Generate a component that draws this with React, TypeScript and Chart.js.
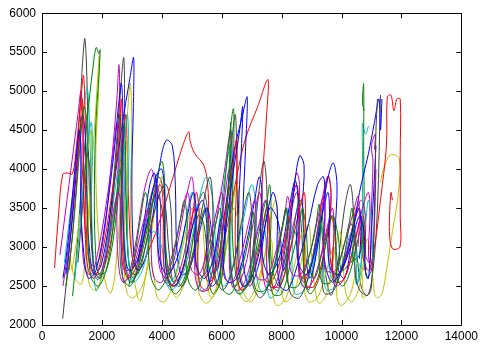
import React, { useEffect, useRef } from "react";
import { Chart, registerables } from "chart.js";

Chart.register(...registerables);

// x tick labels / y tick labels
const xTicks = [0, 2000, 4000, 6000, 8000, 10000, 12000, 14000];
const yTicks = [2000, 2500, 3000, 3500, 4000, 4500, 5000, 5500, 6000];

const black1 = [[690,2080],[850,2700],[1050,3600],[1250,4700],[1420,5670],[1480,5400],[1530,4600],[1600,3500],[1700,2800],[1850,2580],[2050,2750],[2350,3700],[2600,4900],[2730,5430],[2760,4600],[2800,3500],[2900,2800],[3050,2600],[3250,2800],[3600,3600],[3900,3900],[4100,3600],[4250,2900],[4400,2550],[4700,2700],[5100,3400],[5400,3700],[5600,3200],[5750,2600],[5900,2500],[6100,3200],[6300,4200],[6450,4700],[6500,4300],[6550,3200],[6700,2500],[6900,2550],[7150,3400],[7400,4100],[7500,3800],[7550,3000],[7700,2500],[7900,2450],[8200,3200],[8500,3700],[8650,3300],[8750,2700],[8900,2450],[9100,2800],[9300,3300],[9450,2700],[9650,2380],[9850,2700],[10100,3500],[10300,3800],[10450,3200],[10650,2500],[10870,2380],[11050,2700],[11200,3500],[11300,4950]];
const blue1 = [[800,2650],[1000,3300],[1200,4200],[1350,4700],[1450,4400],[1500,3600],[1600,2900],[1750,2650],[2000,2800],[2300,3500],[2650,4500],[2950,5200],[3060,5430],[3050,4800],[3000,3900],[3050,3000],[3200,2700],[3450,2850],[3700,3400],[3950,4100],[4150,4370],[4350,4300],[4450,3800],[4500,3000],[4650,2650],[4900,2700],[5200,3100],[5500,3500],[5700,3100],[5850,2700],[6050,3300],[6400,4200],[6700,4700],[6850,4925],[6800,4300],[6700,3300],[6750,2700],[6950,2500],[7250,2800],[7600,3500],[7900,3300],[8050,2700],[8200,2900],[8400,3700],[8600,4170],[8750,4050],[8700,3500],[8800,2900],[8950,2600],[9200,3000],[9500,3800],[9720,4080],[9850,3800],[9800,3200],[9900,2700],[10100,2600],[10350,3100],[10600,3700],[10900,4200],[11100,4600],[11250,4900],[11300,4500],[11350,4900]];
const green1 = [[1020,2370],[1150,2900],[1300,3700],[1500,4600],[1700,5300],[1810,5560],[1900,5480],[1940,5530],[1900,5200],[1800,4600],[1750,3800],[1780,3000],[1900,2650],[2150,2700],[2450,3300],[2650,4200],[2750,4600],[2800,4000],[2850,3100],[2950,2700],[3200,2650],[3500,3100],[3800,3700],[4000,3500],[4150,2900],[4300,2600],[4600,2500],[4900,2800],[5200,3400],[5400,3300],[5550,2800],[5700,2600],[5950,3200],[6200,4200],[6390,4775],[6400,4200],[6350,3300],[6450,2700],[6650,2450],[6950,2600],[7300,3300],[7500,3600],[7600,3200],[7700,2700],[7950,2500],[8300,3000],[8600,3600],[8800,3300],[8900,2800],[9100,2600],[9400,3000],[9700,3400],[9900,3100],[10000,2700],[10300,2800],[10600,2900],[10740,3300],[10740,4300],[10740,5090],[10700,4850],[10760,4750]];
const red1 = [[418,2730],[550,3400],[690,3930],[850,3950],[1020,3940],[1150,4300],[1280,4800],[1380,5200],[1420,5000],[1450,4500],[1450,3800],[1500,3100],[1650,2700],[1900,2650],[2200,2900],[2500,3600],[2700,4300],[2800,4700],[2850,4200],[2900,3500],[3000,2900],[3200,2700],[3500,2900],[3900,3300],[4300,3800],[4700,4300],[4900,4480],[4950,4350],[5100,4200],[5400,4050],[5530,3800],[5560,3400],[5500,3000],[5400,2700],[5600,2550],[5900,2800],[6200,3300],[6500,3900],[6800,4400],[7200,4800],[7540,5150],[7500,4700],[7350,3800],[7300,3000],[7400,2600],[7650,2550],[8000,2900],[8300,3500],[8500,3800],[8600,3400],[8550,2900],[8700,2600],[9000,2800],[9300,3400],[9550,3900],[9650,3700],[9600,3100],[9700,2700],[9950,2650],[10250,3000],[10500,3500],[10650,3400],[10700,2900],[10900,2700],[11100,3000],[11300,3600],[11500,4300],[11530,4925],[11650,4950],[11750,4750],[11850,4900],[11960,4900],[11960,4200],[11960,3400],[11950,3000],[11700,2980],[11600,3200],[11650,3700],[11700,3600]];
const cyan1 = [[750,2800],[900,3300],[1100,3900],[1300,4500],[1500,5050],[1550,4900],[1600,4400],[1650,3600],[1700,2900],[1800,2440],[1950,2550],[2200,3100],[2500,3900],[2700,4400],[2750,3900],[2750,3200],[2850,2650],[2950,2540],[3150,2700],[3400,3200],[3700,3700],[3850,3400],[3950,2900],[4100,2550],[4400,2600],[4700,3100],[5000,3700],[5150,3400],[5200,2800],[5300,2450],[5550,2500],[5850,3100],[6100,3900],[6300,4300],[6350,3700],[6300,3000],[6400,2500],[6650,2400],[6950,2700],[7250,3300],[7450,3200],[7500,2700],[7600,2350],[7900,2450],[8200,3000],[8450,3200],[8550,2800],[8700,2500],[9000,2700],[9300,3200],[9500,3100],[9600,2700],[9800,2550],[10100,2800],[10350,3000],[10500,2525],[10650,2700],[10700,3500],[10700,4200],[10700,4585],[10800,4450],[10900,4550]];
const magenta1 = [[600,2900],[800,3500],[1000,4100],[1200,4700],[1300,5000],[1350,4700],[1380,4000],[1450,3200],[1600,2800],[1800,2750],[2050,3100],[2300,4000],[2500,4900],[2570,5340],[2600,4800],[2600,3800],[2650,3000],[2730,2540],[2900,2650],[3150,3100],[3400,3700],[3650,4000],[3800,3700],[3850,3100],[3950,2700],[4200,2600],[4500,3000],[4800,3600],[5000,3900],[5100,3500],[5100,2900],[5250,2600],[5500,2700],[5800,3300],[6100,4000],[6300,4500],[6350,4100],[6250,3300],[6300,2700],[6450,2500],[6750,2700],[7050,3300],[7250,3700],[7350,3500],[7350,2900],[7450,2500],[7700,2450],[8000,2800],[8300,3500],[8500,3950],[8600,3800],[8550,3200],[8600,2700],[8750,2550],[9050,2900],[9350,3600],[9550,3915],[9650,3700],[9600,3200],[9650,2800],[9800,2600],[10100,2850],[10400,3300],[10650,3600],[10800,3400],[10800,2900],[10950,2800],[11000,3500],[11050,4100],[11000,4300],[11130,4450],[11100,4250]];
const yellow1 = [[900,2900],[1100,2600],[1318,2527],[1450,2900],[1600,3700],[1750,4500],[1850,5100],[1911,5457],[1880,4900],[1800,4300],[1820,3600],[1950,2900],[2150,2500],[2300,2410],[2450,2700],[2650,3700],[2850,4700],[2950,5100],[3000,4500],[2950,3500],[3050,2700],[3200,2350],[3290,2310],[3450,2600],[3700,3300],[4000,3900],[4100,3600],[4150,2900],[4300,2500],[4500,2350],[4800,2600],[5100,3200],[5300,3500],[5400,3100],[5500,2600],[5650,2350],[5900,2500],[6200,3100],[6500,3800],[6600,3500],[6600,2800],[6750,2400],[7000,2300],[7300,2600],[7600,3300],[7800,3600],[7900,3200],[7950,2600],[8100,2300],[8400,2400],[8700,2900],[8900,3300],[9000,2900],[9100,2500],[9250,2280],[9500,2400],[9750,2900],[9950,3200],[10050,2800],[10150,2400],[10350,2300],[10600,2500],[10850,3100],[11000,2800],[11100,2400],[11200,2350],[11350,2400],[11500,2700],[11700,3200],[11900,3700],[11920,4140],[11630,4180],[11400,4000],[11300,3830]];

const black2 = [[1200,2800],[1350,3500],[1500,4200],[1600,4000],[1650,3300],[1750,2700],[1950,2600],[2200,3000],[2450,4000],[2600,4700],[2650,4200],[2700,3300],[2800,2700],[3000,2550],[3300,2800],[3650,3300],[3950,3700],[4150,3800],[4300,3500],[4350,3000],[4450,2650],[4700,2500],[5050,2900],[5350,3500],[5600,3900],[5700,3600],[5700,3000],[5800,2600],[6050,2450],[6350,2700],[6650,3300],[6900,3700],[7000,3400],[6950,2900],[7050,2500],[7300,2350],[7650,2600],[7950,3100],[8150,3500],[8250,3200],[8200,2700],[8300,2400],[8600,2350],[8950,2700],[9200,3200],[9350,3400],[9400,3000],[9350,2600],[9450,2400],[9750,2450],[10050,2800],[10300,3300],[10450,3100],[10450,2700],[10600,2450],[10870,2380],[11000,2500],[11100,3500],[11150,4500],[11200,4900]];
const blue2 = [[700,2600],[850,3000],[1000,3600],[1150,4200],[1250,4500],[1300,4200],[1300,3500],[1400,2900],[1550,2600],[1800,2700],[2100,3300],[2400,4200],[2550,4800],[2650,5100],[2700,4700],[2700,3800],[2750,3000],[2900,2700],[3150,2800],[3500,3300],[3800,3900],[4000,4000],[4100,3600],[4100,3000],[4200,2600],[4450,2500],[4750,2800],[5050,3300],[5350,3600],[5500,3300],[5500,2800],[5650,2500],[5900,2600],[6150,3300],[6400,4000],[6600,4500],[6700,4800],[6650,4200],[6550,3400],[6550,2800],[6700,2500],[7000,2600],[7350,3100],[7700,3700],[7850,3500],[7850,2900],[7950,2500],[8200,2450],[8550,2800],[8900,3300],[9200,3800],[9400,3900],[9450,3500],[9400,3000],[9500,2700],[9700,2550],[10000,2700],[10300,3000],[10600,3400],[10750,3200],[10800,2700],[10900,2600],[11000,3200],[11100,3900],[11150,4300]];
const green2 = [[800,2500],[950,2900],[1100,3500],[1250,4200],[1400,4800],[1500,4600],[1500,3800],[1550,3000],[1650,2600],[1900,2500],[2200,2800],[2450,3500],[2600,4000],[2650,3700],[2600,3000],[2700,2600],[2950,2500],[3250,2800],[3550,3300],[3800,3800],[4000,4100],[4100,3800],[4100,3100],[4200,2600],[4450,2400],[4800,2600],[5150,3100],[5450,3500],[5550,3200],[5550,2700],[5700,2400],[6000,2600],[6150,3300],[6250,4000],[6300,4600],[6300,4000],[6250,3200],[6350,2600],[6550,2400],[6850,2500],[7150,2900],[7450,3400],[7600,3800],[7650,3400],[7600,2800],[7700,2400],[8000,2400],[8300,2800],[8550,3200],[8700,3500],[8750,3100],[8750,2600],[8950,2400],[9250,2600],[9500,3100],[9700,3400],[9800,3100],[9850,2600],[10050,2500],[10300,2700],[10550,3100],[10700,3300],[10750,2900],[10850,2600],[11000,2700]];
const red2 = [[900,2700],[1050,3300],[1200,4100],[1300,4700],[1350,4900],[1380,4500],[1380,3800],[1450,3100],[1550,2700],[1750,2600],[2000,2900],[2300,3600],[2550,4300],[2650,4900],[2680,4400],[2650,3600],[2700,2900],[2850,2600],[3100,2700],[3400,3100],[3700,3600],[3950,3800],[4050,3500],[4050,2900],[4150,2600],[4400,2500],[4700,2700],[4950,3200],[5150,3700],[5250,3400],[5200,2800],[5300,2500],[5550,2450],[5850,2800],[6150,3500],[6400,4100],[6500,4400],[6500,3900],[6450,3200],[6500,2700],[6650,2450],[6950,2550],[7250,3000],[7500,3500],[7600,3300],[7600,2800],[7700,2500],[7950,2500],[8250,2900],[8550,3400],[8750,3700],[8800,3400],[8750,2800],[8850,2500],[9100,2500],[9400,2900],[9650,3400],[9750,3200],[9700,2800],[9800,2550],[10100,2600],[10400,3000],[10700,3400],[10800,3100],[10750,2700]];
const cyan2 = [[1100,2600],[1250,3200],[1400,3900],[1550,4400],[1650,4600],[1680,4200],[1650,3500],[1700,2900],[1800,2600],[2000,2700],[2300,3200],[2550,3800],[2750,4300],[2850,4700],[2900,4200],[2850,3400],[2900,2800],[3050,2550],[3350,2700],[3700,3200],[4000,3000],[4100,2650],[4300,2450],[4650,2600],[5000,3100],[5300,3700],[5500,3900],[5700,3600],[5800,3000],[5900,2600],[6100,2500],[6400,2800],[6750,3400],[7000,3800],[7150,3500],[7100,3000],[7200,2550],[7400,2400],[7700,2700],[8000,3200],[8200,3500],[8350,3200],[8350,2700],[8450,2400],[8750,2450],[9050,2900],[9300,3300],[9400,3100],[9400,2700],[9500,2450],[9800,2500],[10100,2900],[10350,3200],[10500,2900],[10500,2525],[10650,2800],[10800,3300],[10900,3600],[11000,3300],[11050,2800]];
const magenta2 = [[700,2500],[850,2900],[1000,3500],[1150,4100],[1250,4500],[1300,4300],[1300,3600],[1350,3000],[1450,2700],[1650,2650],[1900,3000],[2200,3700],[2400,4300],[2500,4600],[2550,4200],[2500,3400],[2550,2800],[2700,2550],[2950,2650],[3250,3000],[3550,3500],[3800,3800],[3950,3600],[3950,3000],[4050,2600],[4300,2500],[4600,2700],[4900,3200],[5100,3500],[5150,3200],[5100,2700],[5250,2450],[5500,2450],[5800,2900],[6050,3500],[6250,4000],[6300,3600],[6250,2900],[6350,2500],[6600,2450],[6900,2700],[7200,3200],[7450,3600],[7550,3400],[7500,2900],[7600,2500],[7850,2500],[8150,2900],[8400,3300],[8550,3500],[8600,3200],[8550,2800],[8700,2500],[8950,2500],[9250,2800],[9550,3300],[9700,3500],[9750,3200],[9700,2700],[9800,2500],[10100,2600],[10400,3000],[10700,3500],[10900,3700],[10950,3400],[10900,2900],[11000,2700],[11100,3300],[11150,4000]];
const yellow2 = [[1000,2700],[1200,3200],[1400,3800],[1550,4300],[1650,4500],[1650,4000],[1550,3300],[1500,2800],[1600,2500],[1800,2450],[2050,2700],[2350,3300],[2600,4000],[2800,4400],[2850,4000],[2750,3300],[2750,2700],[2850,2400],[3050,2350],[3350,2500],[3600,2800],[3750,2600],[3850,2350],[4100,2300],[4450,2600],[4750,3100],[5000,3500],[5150,3300],[5150,2800],[5250,2400],[5500,2280],[5800,2450],[6100,2900],[6400,3500],[6550,3300],[6500,2800],[6600,2400],[6850,2300],[7150,2500],[7450,2900],[7650,3100],[7700,2800],[7700,2400],[7850,2250],[8150,2350],[8450,2800],[8700,3200],[8800,2900],[8750,2500],[8900,2300],[9200,2350],[9500,2700],[9750,3000],[9850,2700],[9850,2350],[10000,2250],[10300,2400],[10550,2800],[10700,2600],[10700,2350],[10900,2400]];

const blue3 = [[3200,2800],[3400,3300],[3600,3800],[3750,3950],[3850,3700],[3850,3200],[3950,2800],[4200,2650],[4550,2900],[4850,3400],[5050,3700],[5150,3450],[5100,3000],[5200,2700],[5450,2600],[5750,2900],[6000,3400],[6100,3200],[6050,2800],[6200,2550],[6500,2600],[6850,3100],[7100,3600],[7250,3900],[7350,3700],[7300,3200],[7400,2800],[7600,2650],[7950,2900],[8250,3500],[8450,3850],[8550,3600],[8500,3100],[8600,2750],[8850,2650],[9150,3000],[9400,3500],[9550,3700],[9600,3400],[9550,3000],[9650,2700],[9900,2650],[10200,2950],[10450,3350],[10600,3500],[10650,3200],[10600,2850]];
const magenta3 = [[2000,2700],[2200,3000],[2400,3500],[2550,3700],[2650,3500],[2650,3000],[2750,2700],[3000,2750],[3300,3200],[3550,3500],[3650,3300],[3650,2900],[3750,2600],[4000,2550],[4350,2900],[4650,3400],[4850,3700],[4950,3500],[4900,3000],[5000,2700],[5250,2650],[5550,3000],[5850,3500],[6000,3700],[6050,3300],[6000,2900],[6100,2600],[6350,2550],[6650,2900],[6950,3400],[7100,3600],[7150,3300],[7100,2900],[7200,2600],[7500,2600],[7850,3000],[8100,3400],[8200,3650],[8300,3400],[8250,2900],[8350,2650],[8650,2650],[9000,3000],[9250,3450],[9400,3650],[9450,3350],[9400,2950],[9500,2700],[9800,2700],[10100,3050],[10400,3450],[10550,3650],[10600,3350],[10550,3000]];
const green3 = [[2900,2500],[3100,2900],[3300,3400],[3450,3700],[3550,3500],[3550,3000],[3650,2600],[3900,2450],[4250,2700],[4550,3200],[4750,3600],[4850,3300],[4800,2900],[4900,2550],[5150,2450],[5500,2800],[5800,3300],[5950,3500],[6000,3200],[5950,2800],[6050,2450],[6300,2400],[6650,2700],[6950,3200],[7050,3450],[7100,3150],[7050,2750],[7150,2450],[7450,2450],[7800,2800],[8050,3300],[8150,3500],[8200,3200],[8150,2800],[8250,2500],[8550,2500],[8900,2850],[9150,3300],[9250,3550],[9300,3250],[9250,2850],[9350,2550],[9650,2550],[10000,2900],[10250,3300],[10350,3500],[10400,3200],[10350,2800]];

const seriesList = [
  { data: green3, color: "#008000" },
  { data: magenta3, color: "#bf00bf" },
  { data: blue3, color: "#0000ff" },
  { data: black2, color: "#404040" },
  { data: blue2, color: "#0000ff" },
  { data: green2, color: "#008000" },
  { data: red2, color: "#ff0000" },
  { data: cyan2, color: "#00bfbf" },
  { data: magenta2, color: "#bf00bf" },
  { data: yellow2, color: "#bfbf00" },
  { data: blue1, color: "#0000ff" },
  { data: green1, color: "#008000" },
  { data: red1, color: "#ff0000" },
  { data: cyan1, color: "#00bfbf" },
  { data: magenta1, color: "#bf00bf" },
  { data: yellow1, color: "#bfbf00" },
  { data: black1, color: "#404040" },
];

const boxPlugin = {
  id: "matlabBox",
  afterDraw(chart: any) {
    const { ctx, chartArea: a, scales } = chart;
    const xs = scales.x;
    const ys = scales.y;
    ctx.save();
    ctx.strokeStyle = "#000";
    ctx.lineWidth = 1;
    ctx.beginPath();
    ctx.rect(Math.round(a.left) + 0.5, Math.round(a.top) + 0.5, Math.round(a.right - a.left), Math.round(a.bottom - a.top));
    const L = 5;
    xTicks.forEach((v) => {
      const p = Math.round(xs.getPixelForValue(v)) + 0.5;
      ctx.moveTo(p, a.bottom);
      ctx.lineTo(p, a.bottom - L);
      ctx.moveTo(p, a.top);
      ctx.lineTo(p, a.top + L);
    });
    yTicks.forEach((v) => {
      const p = Math.round(ys.getPixelForValue(v)) + 0.5;
      ctx.moveTo(a.left, p);
      ctx.lineTo(a.left + L, p);
      ctx.moveTo(a.right, p);
      ctx.lineTo(a.right - L, p);
    });
    ctx.stroke();
    ctx.restore();
  },
};

export default function App() {
  const ref = useRef<HTMLCanvasElement | null>(null);
  useEffect(() => {
    document.body.style.margin = "0";
    document.body.style.background = "#fff";
    const canvas = ref.current!;
    const chart = new Chart(canvas, {
      type: "scatter",
      data: {
        datasets: seriesList.map((s) => ({
          data: s.data.map((p) => ({ x: p[0], y: p[1] })),
          borderColor: s.color,
          backgroundColor: s.color,
          borderWidth: 1,
          showLine: true,
          pointRadius: 0,
          tension: 0.35,
          fill: false,
        })),
      },
      plugins: [boxPlugin],
      options: {
        animation: false,
        responsive: false,
        maintainAspectRatio: false,
        layout: { padding: { top: 8, right: 15, left: 0, bottom: 0 } },
        plugins: { legend: { display: false }, tooltip: { enabled: false } },
        scales: {
          x: {
            type: "linear",
            min: 0,
            max: 14000,
            afterBuildTicks: (s: any) => { s.ticks = xTicks.map((v) => ({ value: v })); },
            afterFit: (s: any) => { s.height = 22; },
            grid: { display: false, drawTicks: false },
            border: { display: false },
            ticks: { color: "#000", padding: 4, maxRotation: 0, autoSkip: false, callback: (v: any) => String(v), font: { family: "Liberation Sans, Arial", size: 12 } },
          },
          y: {
            type: "linear",
            min: 2000,
            max: 6000,
            afterBuildTicks: (s: any) => { s.ticks = yTicks.map((v) => ({ value: v })); },
            afterFit: (s: any) => { s.width = 42; },
            grid: { display: false, drawTicks: false },
            border: { display: false },
            ticks: { color: "#000", padding: 6, autoSkip: false, callback: (v: any) => String(v), font: { family: "Liberation Sans, Arial", size: 12 } },
          },
        },
      },
    });
    return () => chart.destroy();
  }, []);
  return <canvas ref={ref} width={482} height={347} style={{ display: "block", width: 482, height: 347 }} />;
}
